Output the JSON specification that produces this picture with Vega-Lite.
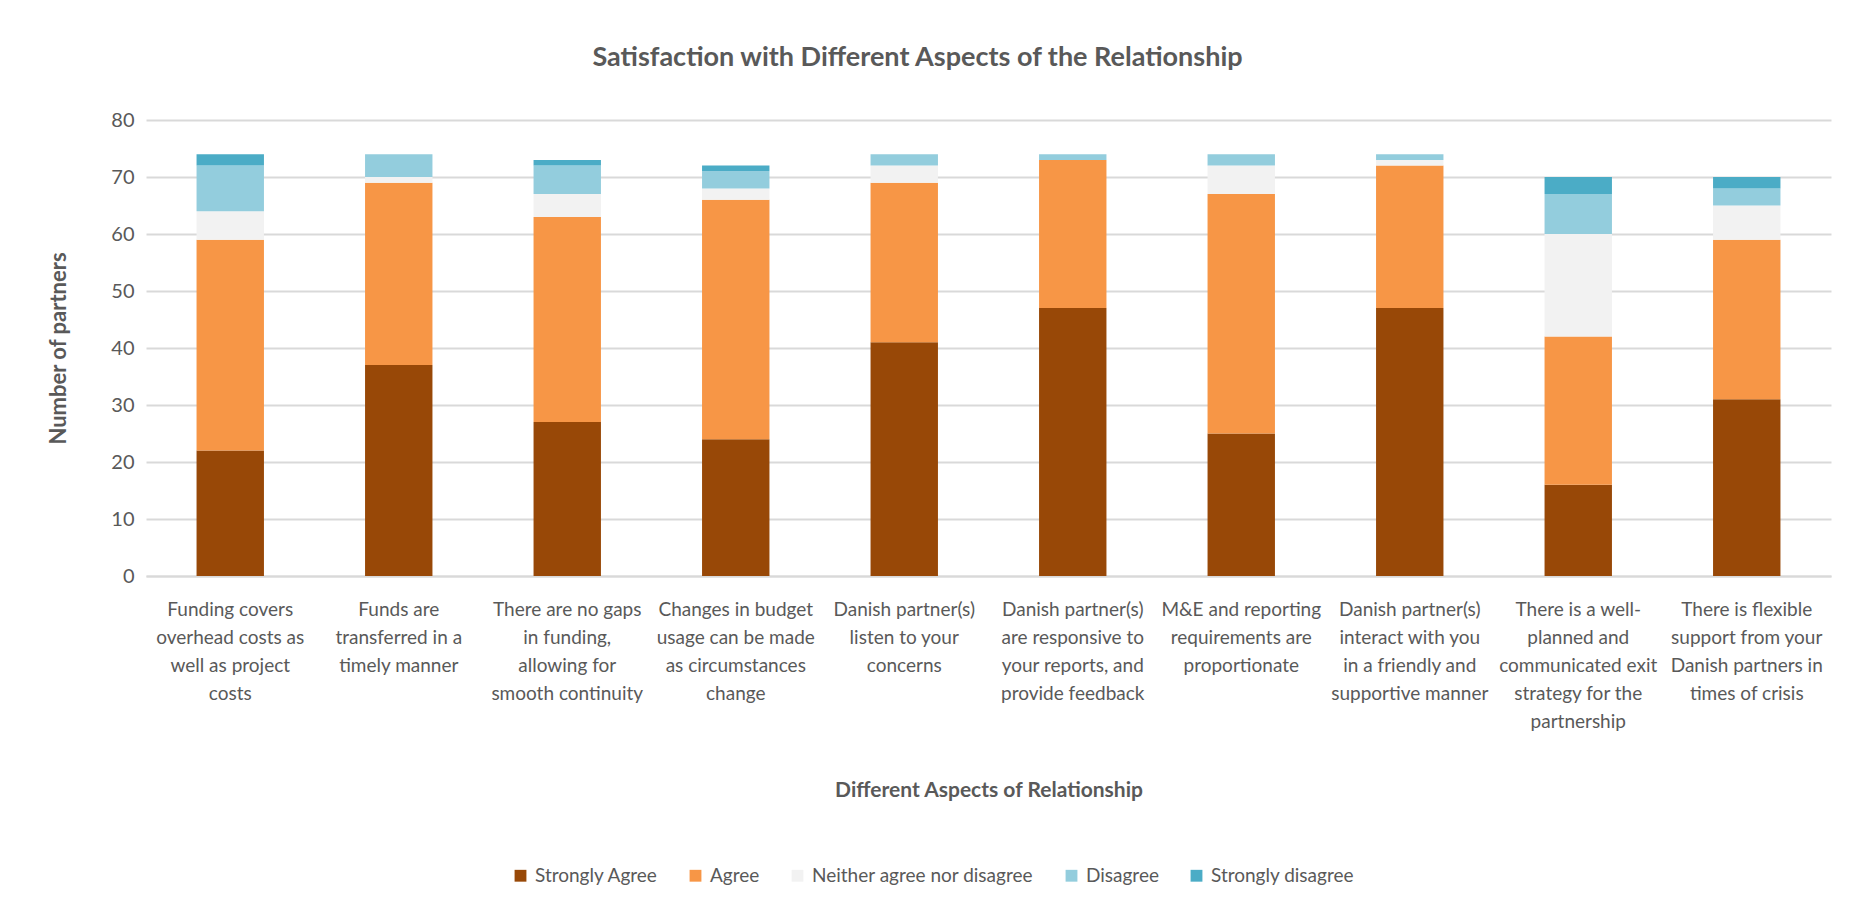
{
  "$schema": "https://vega.github.io/schema/vega-lite/v6.json",
  "width": 1685,
  "height": 456,
  "autosize": {"type": "none"},
  "padding": {"left": 146, "top": 120, "right": 23, "bottom": 334},
  "background": "#ffffff",
  "title": {
    "text": "Satisfaction with Different Aspects of the Relationship",
    "fontSize": 27,
    "font": "Lato",
    "fontWeight": "bold",
    "color": "#595959",
    "anchor": "middle",
    "dx": -71,
    "offset": 38
  },
  "data": {
    "values": [
      {"aspect": "Funding covers|overhead costs as|well as project|costs", "response": "Strongly Agree", "k": 1, "count": 22},
      {"aspect": "Funding covers|overhead costs as|well as project|costs", "response": "Agree", "k": 2, "count": 37},
      {"aspect": "Funding covers|overhead costs as|well as project|costs", "response": "Neither agree nor disagree", "k": 3, "count": 5},
      {"aspect": "Funding covers|overhead costs as|well as project|costs", "response": "Disagree", "k": 4, "count": 8},
      {"aspect": "Funding covers|overhead costs as|well as project|costs", "response": "Strongly disagree", "k": 5, "count": 2},
      {"aspect": "Funds are|transferred in a|timely manner", "response": "Strongly Agree", "k": 1, "count": 37},
      {"aspect": "Funds are|transferred in a|timely manner", "response": "Agree", "k": 2, "count": 32},
      {"aspect": "Funds are|transferred in a|timely manner", "response": "Neither agree nor disagree", "k": 3, "count": 1},
      {"aspect": "Funds are|transferred in a|timely manner", "response": "Disagree", "k": 4, "count": 4},
      {"aspect": "There are no gaps|in funding,|allowing for|smooth continuity", "response": "Strongly Agree", "k": 1, "count": 27},
      {"aspect": "There are no gaps|in funding,|allowing for|smooth continuity", "response": "Agree", "k": 2, "count": 36},
      {"aspect": "There are no gaps|in funding,|allowing for|smooth continuity", "response": "Neither agree nor disagree", "k": 3, "count": 4},
      {"aspect": "There are no gaps|in funding,|allowing for|smooth continuity", "response": "Disagree", "k": 4, "count": 5},
      {"aspect": "There are no gaps|in funding,|allowing for|smooth continuity", "response": "Strongly disagree", "k": 5, "count": 1},
      {"aspect": "Changes in budget|usage can be made|as circumstances|change", "response": "Strongly Agree", "k": 1, "count": 24},
      {"aspect": "Changes in budget|usage can be made|as circumstances|change", "response": "Agree", "k": 2, "count": 42},
      {"aspect": "Changes in budget|usage can be made|as circumstances|change", "response": "Neither agree nor disagree", "k": 3, "count": 2},
      {"aspect": "Changes in budget|usage can be made|as circumstances|change", "response": "Disagree", "k": 4, "count": 3},
      {"aspect": "Changes in budget|usage can be made|as circumstances|change", "response": "Strongly disagree", "k": 5, "count": 1},
      {"aspect": "Danish partner(s)|listen to your|concerns", "response": "Strongly Agree", "k": 1, "count": 41},
      {"aspect": "Danish partner(s)|listen to your|concerns", "response": "Agree", "k": 2, "count": 28},
      {"aspect": "Danish partner(s)|listen to your|concerns", "response": "Neither agree nor disagree", "k": 3, "count": 3},
      {"aspect": "Danish partner(s)|listen to your|concerns", "response": "Disagree", "k": 4, "count": 2},
      {"aspect": "Danish partner(s)|are responsive to|your reports, and|provide feedback", "response": "Strongly Agree", "k": 1, "count": 47},
      {"aspect": "Danish partner(s)|are responsive to|your reports, and|provide feedback", "response": "Agree", "k": 2, "count": 26},
      {"aspect": "Danish partner(s)|are responsive to|your reports, and|provide feedback", "response": "Disagree", "k": 4, "count": 1},
      {"aspect": "M&E and reporting|requirements are|proportionate", "response": "Strongly Agree", "k": 1, "count": 25},
      {"aspect": "M&E and reporting|requirements are|proportionate", "response": "Agree", "k": 2, "count": 42},
      {"aspect": "M&E and reporting|requirements are|proportionate", "response": "Neither agree nor disagree", "k": 3, "count": 5},
      {"aspect": "M&E and reporting|requirements are|proportionate", "response": "Disagree", "k": 4, "count": 2},
      {"aspect": "Danish partner(s)|interact with you|in a friendly and|supportive manner", "response": "Strongly Agree", "k": 1, "count": 47},
      {"aspect": "Danish partner(s)|interact with you|in a friendly and|supportive manner", "response": "Agree", "k": 2, "count": 25},
      {"aspect": "Danish partner(s)|interact with you|in a friendly and|supportive manner", "response": "Neither agree nor disagree", "k": 3, "count": 1},
      {"aspect": "Danish partner(s)|interact with you|in a friendly and|supportive manner", "response": "Disagree", "k": 4, "count": 1},
      {"aspect": "There is a well-|planned and|communicated exit|strategy for the|partnership", "response": "Strongly Agree", "k": 1, "count": 16},
      {"aspect": "There is a well-|planned and|communicated exit|strategy for the|partnership", "response": "Agree", "k": 2, "count": 26},
      {"aspect": "There is a well-|planned and|communicated exit|strategy for the|partnership", "response": "Neither agree nor disagree", "k": 3, "count": 18},
      {"aspect": "There is a well-|planned and|communicated exit|strategy for the|partnership", "response": "Disagree", "k": 4, "count": 7},
      {"aspect": "There is a well-|planned and|communicated exit|strategy for the|partnership", "response": "Strongly disagree", "k": 5, "count": 3},
      {"aspect": "There is flexible|support from your|Danish partners in|times of crisis", "response": "Strongly Agree", "k": 1, "count": 31},
      {"aspect": "There is flexible|support from your|Danish partners in|times of crisis", "response": "Agree", "k": 2, "count": 28},
      {"aspect": "There is flexible|support from your|Danish partners in|times of crisis", "response": "Neither agree nor disagree", "k": 3, "count": 6},
      {"aspect": "There is flexible|support from your|Danish partners in|times of crisis", "response": "Disagree", "k": 4, "count": 3},
      {"aspect": "There is flexible|support from your|Danish partners in|times of crisis", "response": "Strongly disagree", "k": 5, "count": 2}
    ]
  },
  "mark": {"type": "bar"},
  "encoding": {
    "x": {
      "field": "aspect",
      "type": "nominal",
      "sort": null,
      "scale": {"paddingInner": 0.6, "paddingOuter": 0.3},
      "axis": {
        "title": "Different Aspects of Relationship",
        "titleFont": "Lato",
        "titleFontSize": 21,
        "titleFontWeight": "bold",
        "titleColor": "#595959",
        "titlePadding": 48,
        "labelExpr": "split(datum.label, '|')",
        "labelAngle": 0,
        "labelFont": "Lato",
        "labelFontSize": 19,
        "labelLineHeight": 28,
        "labelColor": "#595959",
        "labelPadding": 24,
        "labelLimit": 0,
        "ticks": false,
        "domain": true,
        "domainColor": "#d9d9d9",
        "domainWidth": 2
      }
    },
    "y": {
      "field": "count",
      "type": "quantitative",
      "stack": "zero",
      "scale": {"domain": [0, 80]},
      "axis": {
        "title": "Number of partners",
        "titleFont": "Lato",
        "titleFontSize": 22,
        "titleFontWeight": "bold",
        "titleColor": "#595959",
        "titlePadding": 40,
        "values": [0, 10, 20, 30, 40, 50, 60, 70, 80],
        "labelFont": "Lato",
        "labelFontSize": 20,
        "labelColor": "#595959",
        "labelPadding": 12,
        "ticks": false,
        "domain": false,
        "grid": true,
        "gridColor": "#d9d9d9",
        "gridWidth": 2
      }
    },
    "color": {
      "field": "response",
      "type": "nominal",
      "scale": {
        "domain": ["Strongly Agree", "Agree", "Neither agree nor disagree", "Disagree", "Strongly disagree"],
        "range": ["#984807", "#F79646", "#F2F2F2", "#93CDDD", "#4BACC6"]
      },
      "legend": {
        "title": null,
        "orient": "none",
        "direction": "horizontal",
        "legendX": 365,
        "legendY": 746,
        "symbolType": "square",
        "symbolSize": 140,
        "symbolStrokeWidth": 0,
        "labelFont": "Lato",
        "labelFontSize": 19,
        "labelColor": "#595959",
        "labelLimit": 0,
        "columnPadding": 28,
        "labelOffset": 5
      }
    },
    "order": {"field": "k", "type": "quantitative", "sort": "ascending"}
  },
  "config": {
    "view": {"stroke": null}
  }
}
